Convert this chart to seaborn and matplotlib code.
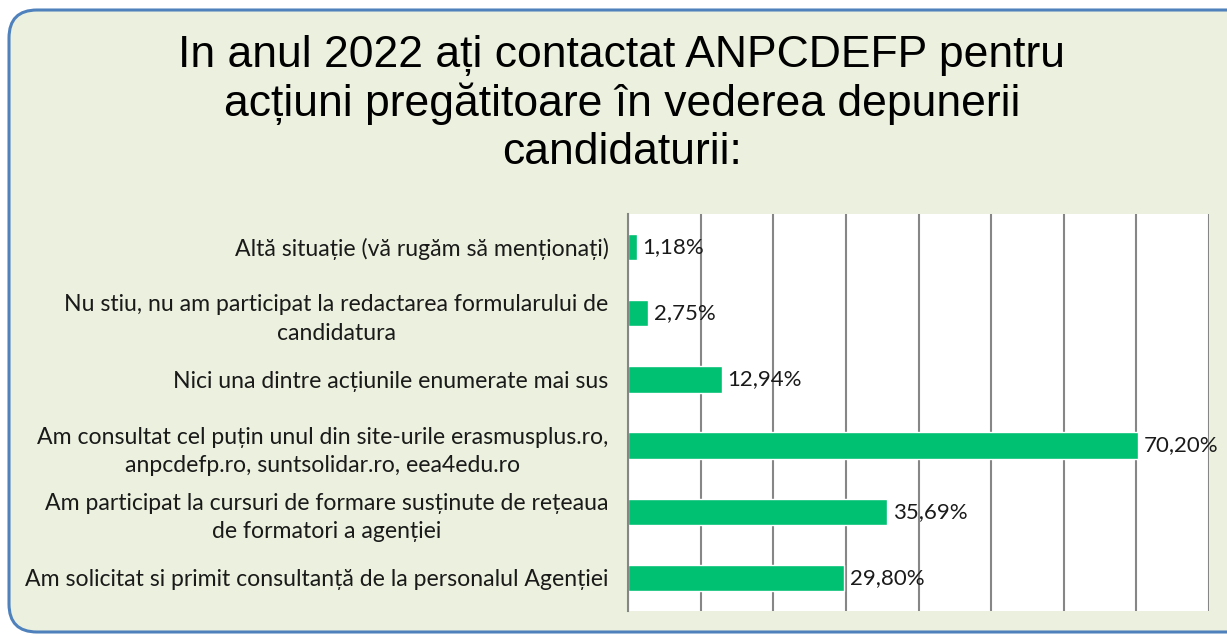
import matplotlib
matplotlib.use("Agg")
import matplotlib.pyplot as plt
import seaborn as sns
import pandas as pd
from matplotlib.patches import FancyBboxPatch
from matplotlib.ticker import MultipleLocator, FixedLocator

categories = [
    "Altă situație (vă rugăm să menționați)",
    "Nu stiu, nu am participat la redactarea formularului de\ncandidatura",
    "Nici una dintre acțiunile enumerate mai sus",
    "Am consultat cel puțin unul din site-urile erasmusplus.ro,\nanpcdefp.ro, suntsolidar.ro, eea4edu.ro",
    "Am participat la cursuri de formare susținute de rețeaua\nde formatori a agenției",
    "Am solicitat si primit consultanță de la personalul Agenției",
]
values = [1.18, 2.75, 12.94, 70.20, 35.69, 29.80]
value_labels = ["1,18%", "2,75%", "12,94%", "70,20%", "35,69%", "29,80%"]
title = "In anul 2022 ați contactat ANPCDEFP pentru\nacțiuni pregătitoare în vederea depunerii\ncandidaturii:"

sns.set_theme(style="white")
plt.rcParams['font.family'] = ['Lato', 'DejaVu Sans']

W, H = 1227, 635
fig = plt.figure(figsize=(W / 100, H / 100), dpi=100, facecolor="white")

box = FancyBboxPatch((9, 3), 1260, 622, boxstyle="round,pad=0,rounding_size=28",
                     transform=None, facecolor="#EBF1DE", edgecolor="#4F81BD",
                     linewidth=2.2, zorder=-5)
fig.patches.append(box)

ax = fig.add_axes([628 / W, (H - 611) / H, (1209 - 628) / W, (611 - 214) / H])
ax.set_zorder(2)
ax.set_facecolor("white")

df = pd.DataFrame({"cat": categories, "val": values})
sns.barplot(data=df, x="val", y="cat", orient="h", color="#00C072",
            saturation=1, width=0.4, ax=ax, zorder=3)

ax.set_xlim(0, 80)
ax.set_ylim(len(categories) - 0.5, -0.5)
ax.xaxis.set_major_locator(MultipleLocator(10))
ax.set_xticklabels([])
ax.tick_params(axis="x", length=0)
ax.grid(axis="x", color="#868686", linewidth=1.5, zorder=1)
ax.set_axisbelow(True)
ax.set_xlabel("")
ax.set_ylabel("")

for s in ["top", "right", "bottom"]:
    ax.spines[s].set_visible(False)
ax.spines["left"].set_color("#868686")
ax.spines["left"].set_linewidth(1.5)
ax.spines["left"].set_zorder(4)

ax.tick_params(axis="y", which="major", length=0, pad=14, labelsize=16.6)
ax.yaxis.set_minor_locator(FixedLocator([i - 0.5 for i in range(len(categories) + 1)]))
ax.tick_params(axis="y", which="minor", length=6, width=1.5, color="#868686", direction="out")
for lbl in ax.get_yticklabels():
    lbl.set_multialignment("center")
    lbl.set_linespacing(1.45)
    lbl.set_color("#1a1a1a")

for i, (v, t) in enumerate(zip(values, value_labels)):
    ax.annotate(t, xy=(v, i), xytext=(4, 0), textcoords="offset points",
                ha="left", va="center", fontsize=16, color="#1a1a1a", zorder=5)

fig.text(622 / W, 1 - 104 / H, title, ha="center", va="center", fontsize=32,
         family=["Liberation Sans", "DejaVu Sans"], linespacing=1.2, color="black")

fig.savefig("out.png", dpi=100, facecolor="white")
